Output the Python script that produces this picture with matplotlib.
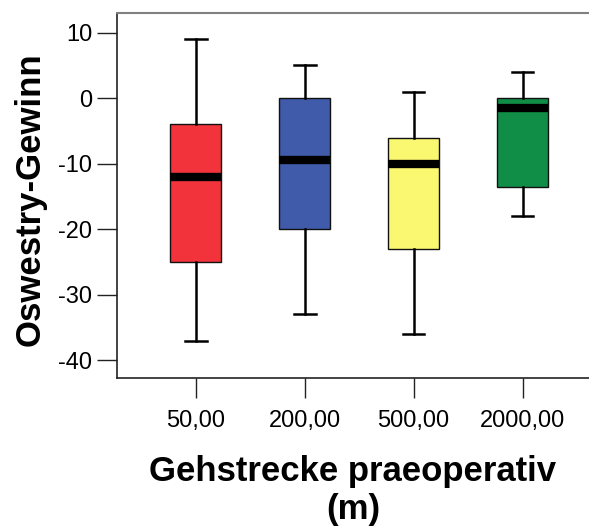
import matplotlib
matplotlib.use('Agg')
import matplotlib.pyplot as plt

plt.rcParams['font.family'] = ['Liberation Sans', 'DejaVu Sans']
plt.rcParams['axes.unicode_minus'] = False

# Data
groups = ['50,00', '200,00', '500,00', '2000,00']
whisker_low = [-37, -33, -36, -18]
q1 = [-25, -20, -23, -13.5]
medians = [-12, -9.5, -10, -1.5]
q3 = [-4, 0, -6, 0]
whisker_high = [9, 5, 1, 4]
colors = ['#F2333B', '#3F5BAA', '#FAF870', '#108E48']

stats = []
for i in range(len(groups)):
    stats.append({'label': groups[i], 'whislo': whisker_low[i], 'q1': q1[i],
                  'med': medians[i], 'q3': q3[i], 'whishi': whisker_high[i],
                  'fliers': []})

fig = plt.figure(figsize=(5.89, 5.29), dpi=100)
ax = fig.add_axes([117/589, 1 - 378/529, 1 - 117/589, 365/529])

bp = ax.bxp(stats, positions=[1, 2, 3, 4], widths=0.47, patch_artist=True,
            showfliers=False,
            boxprops=dict(linewidth=1.0, edgecolor='#111111'),
            medianprops=dict(color='black', linewidth=6, solid_capstyle='butt'),
            whiskerprops=dict(color='black', linewidth=1.8),
            capprops=dict(color='black', linewidth=1.8),
            capwidths=0.2)
for patch, c in zip(bp['boxes'], colors):
    patch.set_facecolor(c)

ax.set_xlim(0.278, 4.61)
ax.set_ylim(-42.7, 13.0)
ax.set_yticks([10, 0, -10, -20, -30, -40])
ax.set_xticks([1, 2, 3, 4])
ax.set_xticklabels(groups)

ax.tick_params(axis='both', direction='out', length=14.4, width=1.0,
               labelsize=17, color='#222222')
ax.tick_params(axis='x', pad=8.5)
ax.tick_params(axis='y', pad=3.5)

ax.spines['right'].set_visible(False)
ax.spines['top'].set_color('#808080')
ax.spines['top'].set_linewidth(1.5)
ax.spines['left'].set_color('#222222')
ax.spines['bottom'].set_color('#222222')
ax.spines['left'].set_linewidth(1.2)
ax.spines['bottom'].set_linewidth(1.2)

ax.set_ylabel('Oswestry-Gewinn', fontsize=25, fontweight='bold')
ax.yaxis.set_label_coords(-0.15, 0.49)
ax.set_xlabel('Gehstrecke praeoperativ\n(m)', fontsize=25, fontweight='bold',
              linespacing=1.22)
ax.xaxis.set_label_coords(0.5, -0.21)
ax.xaxis.label.set_va('top')

fig.savefig('out.png', dpi=100)
